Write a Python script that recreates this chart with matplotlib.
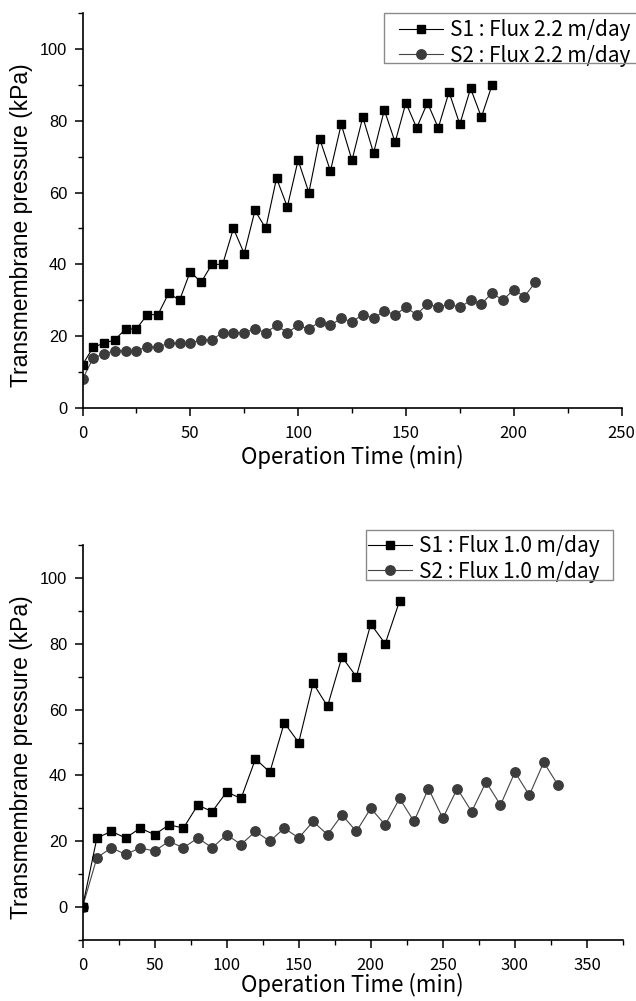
import matplotlib
matplotlib.use("Agg")
import matplotlib.pyplot as plt
from matplotlib.patches import Rectangle
from matplotlib.ticker import MultipleLocator

# ---- data ----
t_a_s1 = list(range(0, 191, 5))
p_a_s1 = [12, 17, 18, 19, 22, 22, 26, 26, 32, 30, 38, 35, 40, 40, 50, 43, 55, 50,
          64, 56, 69, 60, 75, 66, 79, 69, 81, 71, 83, 74, 85, 78, 85, 78, 88, 79,
          89, 81, 90]
t_a_s2 = list(range(0, 211, 5))
p_a_s2 = [8, 14, 15, 16, 16, 16, 17, 17, 18, 18, 18, 19, 19, 21, 21, 21, 22, 21,
          23, 21, 23, 22, 24, 23, 25, 24, 26, 25, 27, 26, 28, 26, 29, 28, 29, 28,
          30, 29, 32, 30, 33, 31, 35]

t_b_s1 = list(range(0, 221, 10))
p_b_s1 = [0, 21, 23, 21, 24, 22, 25, 24, 31, 29, 35, 33, 45, 41, 56, 50, 68, 61,
          76, 70, 86, 80, 93]
t_b_s2 = list(range(0, 331, 10))
p_b_s2 = [0, 15, 18, 16, 18, 17, 20, 18, 21, 18, 22, 19, 23, 20, 24, 21, 26, 22,
          28, 23, 30, 25, 33, 26, 36, 27, 36, 29, 38, 31, 41, 34, 44, 37]

labels_a = ["S1 : Flux 2.2 m/day", "S2 : Flux 2.2 m/day"]
labels_b = ["S1 : Flux 1.0 m/day", "S2 : Flux 1.0 m/day"]

W, H = 636, 1001
JP = ["Noto Sans CJK JP", "DejaVu Sans"]
AR = ["Liberation Sans", "DejaVu Sans"]

fig = plt.figure(figsize=(W / 100, H / 100), dpi=100)
fig.patch.set_facecolor("white")


def px_axes(x0, y0, x1, y1):
    return fig.add_axes([x0 / W, 1 - y1 / H, (x1 - x0) / W, (y1 - y0) / H])


def style(ax, xmax, ylo, xlab_y):
    for s in ("top", "right"):
        ax.spines[s].set_visible(False)
    for s in ("left", "bottom"):
        ax.spines[s].set_linewidth(1.2)
    ax.set_xlim(0, xmax)
    ax.set_ylim(ylo, 110)
    ax.xaxis.set_major_locator(MultipleLocator(50))
    ax.xaxis.set_minor_locator(MultipleLocator(25))
    ax.yaxis.set_major_locator(MultipleLocator(20))
    ax.yaxis.set_minor_locator(MultipleLocator(10))
    ax.tick_params(which="major", direction="out", length=6, width=1.1, pad=5)
    ax.tick_params(which="minor", direction="out", length=3.5, width=1.0)
    ax.tick_params(axis="x", which="major", pad=6)
    for lab in ax.get_xticklabels():
        lab.set_family(JP)
        lab.set_fontsize(12)
    for lab in ax.get_yticklabels():
        lab.set_family(AR)
        lab.set_fontsize(11.8)
    ax.set_xlabel("Operation Time (min)", family=JP, fontsize=16, va="center")
    ax.set_ylabel("Transmembrane pressure (kPa)", family=AR, fontsize=16.5)
    ax.xaxis.set_label_coords(0.5, xlab_y)
    ax.yaxis.set_label_coords(-0.091, 0.463)


def draw(ax, t1, p1, t2, p2, labels):
    ax.plot(t1, p1, color="black", lw=0.8, marker="s", ms=6,
            mfc="black", mec="black", label=labels[0], zorder=3)
    ax.plot(t2, p2, color="#444444", lw=0.8, marker="o", ms=6.8,
            mfc="#3c3c3c", mec="#3c3c3c", label=labels[1], zorder=2)


def legend(ax, hx, top, box):
    leg = ax.legend(loc="upper left", bbox_to_anchor=(hx / W, 1 - top / H),
                    bbox_transform=fig.transFigure, prop={"family": JP, "size": 15},
                    frameon=False, handlelength=2.1, handletextpad=0.34,
                    borderpad=0, labelspacing=0.17, borderaxespad=0)
    x0, y0, x1, y1 = box
    fig.patches.append(Rectangle((x0 / W, 1 - y1 / H), (x1 - x0) / W, (y1 - y0) / H,
                                 transform=fig.transFigure, fill=False,
                                 edgecolor="#8a8a8a", linewidth=1.0, zorder=5))
    return leg


ax1 = px_axes(82.5, 13, 621.5, 408)
draw(ax1, t_a_s1, p_a_s1, t_a_s2, p_a_s2, labels_a)
style(ax1, 250, 0, -0.124)
legend(ax1, 399, 19, (384, 13, 650, 63))

ax2 = px_axes(82.5, 545, 623, 940)
draw(ax2, t_b_s1, p_b_s1, t_b_s2, p_b_s2, labels_b)
style(ax2, 375, -10, -0.115)
legend(ax2, 368, 535, (366, 530, 613, 580))

fig.savefig("out.png", dpi=100)
